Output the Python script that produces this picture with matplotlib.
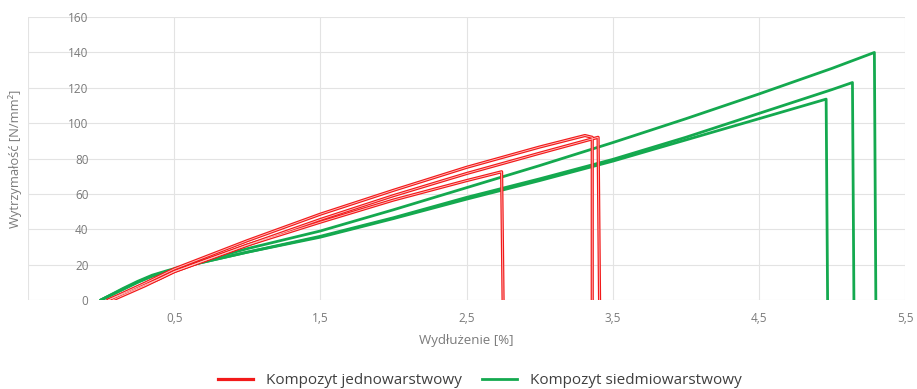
import numpy as np
import matplotlib
matplotlib.use("Agg")
import matplotlib.pyplot as plt

plt.rcParams["font.family"] = ["Open Sans", "DejaVu Sans"]

# --- Data (elongation [%], strength [N/mm2]) ---
# single-layer composite (red)
red_a_x = [0.05, 0.2, 0.4, 0.5, 0.75, 1.0, 1.5, 2.0, 2.5, 2.74, 2.75]
red_a_y = [0, 5, 12, 16, 23.5, 31, 44, 56.5, 67.5, 72.5, 0]
red_b_x = [0.05, 0.3, 0.5, 0.75, 1.0, 1.5, 2.0, 2.5, 3.0, 3.31, 3.36, 3.36]
red_b_y = [0, 9.5, 17.5, 25.5, 33.5, 48.5, 62, 75, 86.5, 93, 92, 0]
red_c_x = [0.08, 0.3, 0.5, 0.75, 1.0, 1.5, 2.0, 2.5, 3.0, 3.40, 3.41]
red_c_y = [0, 8, 16, 23.5, 31, 45.5, 59, 71.5, 83, 92, 0]

# seven-layer composite (green)
green_a_x = [0.0, 0.15, 0.25, 0.35, 0.45, 0.6, 1.0, 1.5, 2.0, 2.5, 3.0, 3.5, 4.0, 4.5, 5.0, 5.29, 5.30]
green_a_y = [0, 6.5, 10.5, 14, 16.5, 20, 29, 39, 51, 63.5, 76, 89, 102.5, 116.5, 131, 140, 0]
green_b_x = [0.0, 0.15, 0.25, 0.35, 0.45, 0.6, 1.0, 1.5, 2.0, 2.5, 3.0, 3.5, 4.0, 4.5, 5.0, 5.14, 5.15]
green_b_y = [0, 6, 10, 13.5, 16, 19.5, 27, 36, 46.5, 58, 68.5, 79.5, 92, 105.5, 119, 123, 0]
green_c_x = [0.0, 0.15, 0.25, 0.35, 0.45, 0.6, 1.0, 1.5, 2.0, 2.5, 3.0, 3.5, 4.0, 4.5, 4.96, 4.97]
green_c_y = [0, 6, 10, 13.5, 16, 19.5, 27, 35.5, 46, 57, 67.5, 78.5, 90.5, 102.5, 113.6, 0]

x_ticks = [-0.5, 0.5, 1.5, 2.5, 3.5, 4.5, 5.5]
x_labels = ["", "0,5", "1,5", "2,5", "3,5", "4,5", "5,5"]
y_ticks = [0, 20, 40, 60, 80, 100, 120, 140, 160]

RED = "#f21a1a"
GREEN = "#14a94f"
GRID = "#e3e3e3"
TXT = "#7a7a7a"

fig = plt.figure(figsize=(9.17, 3.89), dpi=100)
ax = fig.add_axes([0.0305, 0.229, 0.9565, 0.727])

for i, (xs, ys) in enumerate([(red_a_x, red_a_y), (red_b_x, red_b_y), (red_c_x, red_c_y)]):
    ax.plot(xs, ys, color=RED, lw=2.3, solid_joinstyle="round", zorder=3,
            label="Kompozyt jednowarstwowy" if i == 0 else None)
    # the red traces look hollow in the source
    ax.plot(xs, ys, color="#ffc4c4", lw=0.6, solid_joinstyle="round", zorder=3.1)

for i, (xs, ys) in enumerate([(green_a_x, green_a_y), (green_b_x, green_b_y), (green_c_x, green_c_y)]):
    ax.plot(xs, ys, color=GREEN, lw=2.0, solid_joinstyle="round", zorder=2,
            label="Kompozyt siedmiowarstwowy" if i == 0 else None)

ax.set_xlim(-0.5, 5.5)
ax.set_ylim(0, 160)
ax.set_xticks(x_ticks)
ax.set_xticklabels(x_labels)
ax.set_yticks(y_ticks)

ax.grid(True, color=GRID, lw=0.8)
ax.set_axisbelow(True)
for s in ["top", "right", "bottom"]:
    ax.spines[s].set_visible(False)
# y axis crosses at x = 0, as in the Excel chart
ax.spines["left"].set_position(("data", 0))
ax.spines["left"].set_color("none")

ax.tick_params(axis="both", length=0, labelsize=8.5, labelcolor=TXT)
ax.tick_params(axis="y", pad=9)
ax.tick_params(axis="x", pad=9)

ax.set_xlabel("Wydłużenie [%]", fontsize=9.5, color=TXT, labelpad=6)
ax.set_ylabel("Wytrzymałość [N/mm²]", fontsize=9.3, color=TXT)
ax.yaxis.set_label_coords(-0.007, 0.5)

fig.legend(loc="center", bbox_to_anchor=(0.523, 0.022), ncol=2, frameon=False,
           fontsize=11, labelcolor="#404040", handlelength=2.3, columnspacing=1.3,
           handletextpad=0.85)

fig.savefig("out.png", dpi=100, facecolor="white")
